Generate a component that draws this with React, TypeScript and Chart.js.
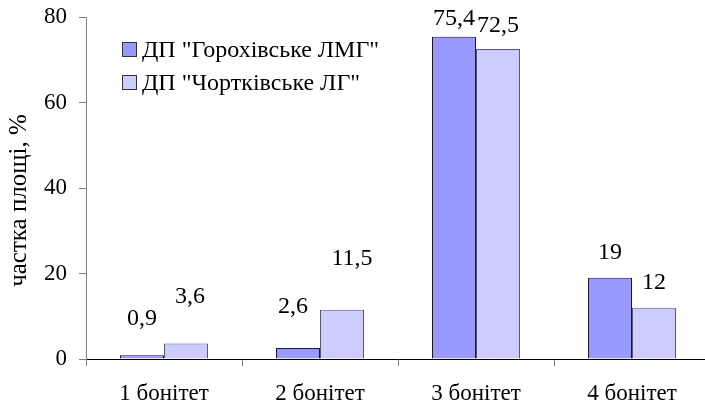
import React, { useEffect, useRef } from "react";
import { Chart, registerables } from "chart.js";

Chart.register(...registerables);

const categories = ["1 бонітет", "2 бонітет", "3 бонітет", "4 бонітет"];
const seriesNames = ['ДП "Горохівське ЛМГ"', 'ДП "Чортківське ЛГ"'];
const gorokhivValues = [0.9, 2.6, 75.4, 19];
const chortkivValues = [3.6, 11.5, 72.5, 12];
const yMin = 0;
const yMax = 80;
const yStep = 20;
const yTitle = "частка площі, %";

// label placement (pixels: horizontal shift, baseline height above bar top)
const labelDx = [
  [0, -5, 0, 0],
  [4, 10, 0, 0],
];
const labelDy = [
  [30, 35, 12, 19],
  [41, 45, 17, 19],
];

const FONT = "Liberation Serif";
const colors = ["#9999ff", "#ccccff"];
const borders = ["#1a1a1a", "#5a5a6e"];

const labelPlugin = {
  id: "valueLabels",
  afterDatasetsDraw(chart: any) {
    const ctx = chart.ctx;
    ctx.save();
    ctx.font = `24px ${FONT}`;
    ctx.fillStyle = "#000";
    ctx.textAlign = "center";
    ctx.textBaseline = "alphabetic";
    chart.data.datasets.forEach((ds: any, i: number) => {
      const meta = chart.getDatasetMeta(i);
      meta.data.forEach((bar: any, j: number) => {
        const text = String(ds.data[j]).replace(".", ",");
        ctx.fillText(text, bar.x + labelDx[i][j], bar.y - labelDy[i][j]);
      });
    });
    ctx.restore();
  },
};

const legendPlugin = {
  id: "insideLegend",
  afterDraw(chart: any) {
    const ctx = chart.ctx;
    const area = chart.chartArea;
    ctx.save();
    ctx.font = `24px ${FONT}`;
    ctx.textAlign = "left";
    ctx.textBaseline = "alphabetic";
    chart.data.datasets.forEach((ds: any, i: number) => {
      const cy = area.top + 32 + i * 33;
      const bx = area.left + 36;
      ctx.fillStyle = ds.backgroundColor;
      ctx.fillRect(bx, cy - 7, 15, 15);
      ctx.strokeStyle = "#333";
      ctx.lineWidth = 1;
      ctx.strokeRect(bx + 0.5, cy - 6.5, 14, 14);
      ctx.fillStyle = "#000";
      ctx.fillText(ds.label, bx + 20, cy + 8);
    });
    ctx.restore();
  },
};

export default function App() {
  const ref = useRef<HTMLCanvasElement>(null);

  useEffect(() => {
    if (!ref.current) return;
    Chart.defaults.font.family = FONT;
    Chart.defaults.color = "#000";
    const chart = new Chart(ref.current, {
      type: "bar",
      data: {
        labels: categories,
        datasets: [
          {
            label: seriesNames[0],
            data: gorokhivValues,
            backgroundColor: colors[0],
            borderColor: borders[0],
            borderWidth: 1,
          },
          {
            label: seriesNames[1],
            data: chortkivValues,
            backgroundColor: colors[1],
            borderColor: borders[1],
            borderWidth: 1,
          },
        ],
      },
      options: {
        responsive: false,
        animation: false,
        devicePixelRatio: 1,
        layout: { padding: { left: 0, right: 10, top: 17, bottom: 0 } },
        datasets: {
          bar: { categoryPercentage: 88 / 156, barPercentage: 1 },
        },
        plugins: {
          legend: { display: false },
          tooltip: { enabled: false },
          title: { display: false },
        },
        scales: {
          x: {
            grid: {
              offset: true,
              drawOnChartArea: false,
              drawTicks: true,
              tickLength: 7,
              color: "#808080",
            },
            border: { display: true, color: "#000", width: 1 },
            ticks: {
              color: "#000",
              font: { family: FONT, size: 23 },
              padding: 14,
              maxRotation: 0,
              autoSkip: false,
            },
            afterFit: (scale: any) => {
              scale.height = 50;
              scale.paddingLeft = 0;
              scale.paddingRight = 0;
            },
          },
          y: {
            min: yMin,
            max: yMax,
            grid: {
              drawOnChartArea: false,
              drawTicks: true,
              tickLength: 7,
              color: "#808080",
            },
            border: { display: true, color: "#808080", width: 1 },
            ticks: {
              stepSize: yStep,
              color: "#000",
              font: { family: FONT, size: 23 },
              padding: 12,
            },
            title: {
              display: true,
              text: yTitle + "    ",
              color: "#000",
              font: { family: FONT, size: 25 },
              padding: { top: 4, bottom: 0 },
            },
            afterFit: (scale: any) => {
              scale.width = 86;
              scale.paddingTop = 0;
              scale.paddingBottom = 0;
            },
          },
        },
      },
      plugins: [labelPlugin, legendPlugin],
    });
    return () => chart.destroy();
  }, []);

  return (
    <div style={{ position: "fixed", left: 0, top: 0, width: 720, height: 409, background: "#fff" }}>
      <canvas ref={ref} width={720} height={409} style={{ display: "block" }} />
    </div>
  );
}
